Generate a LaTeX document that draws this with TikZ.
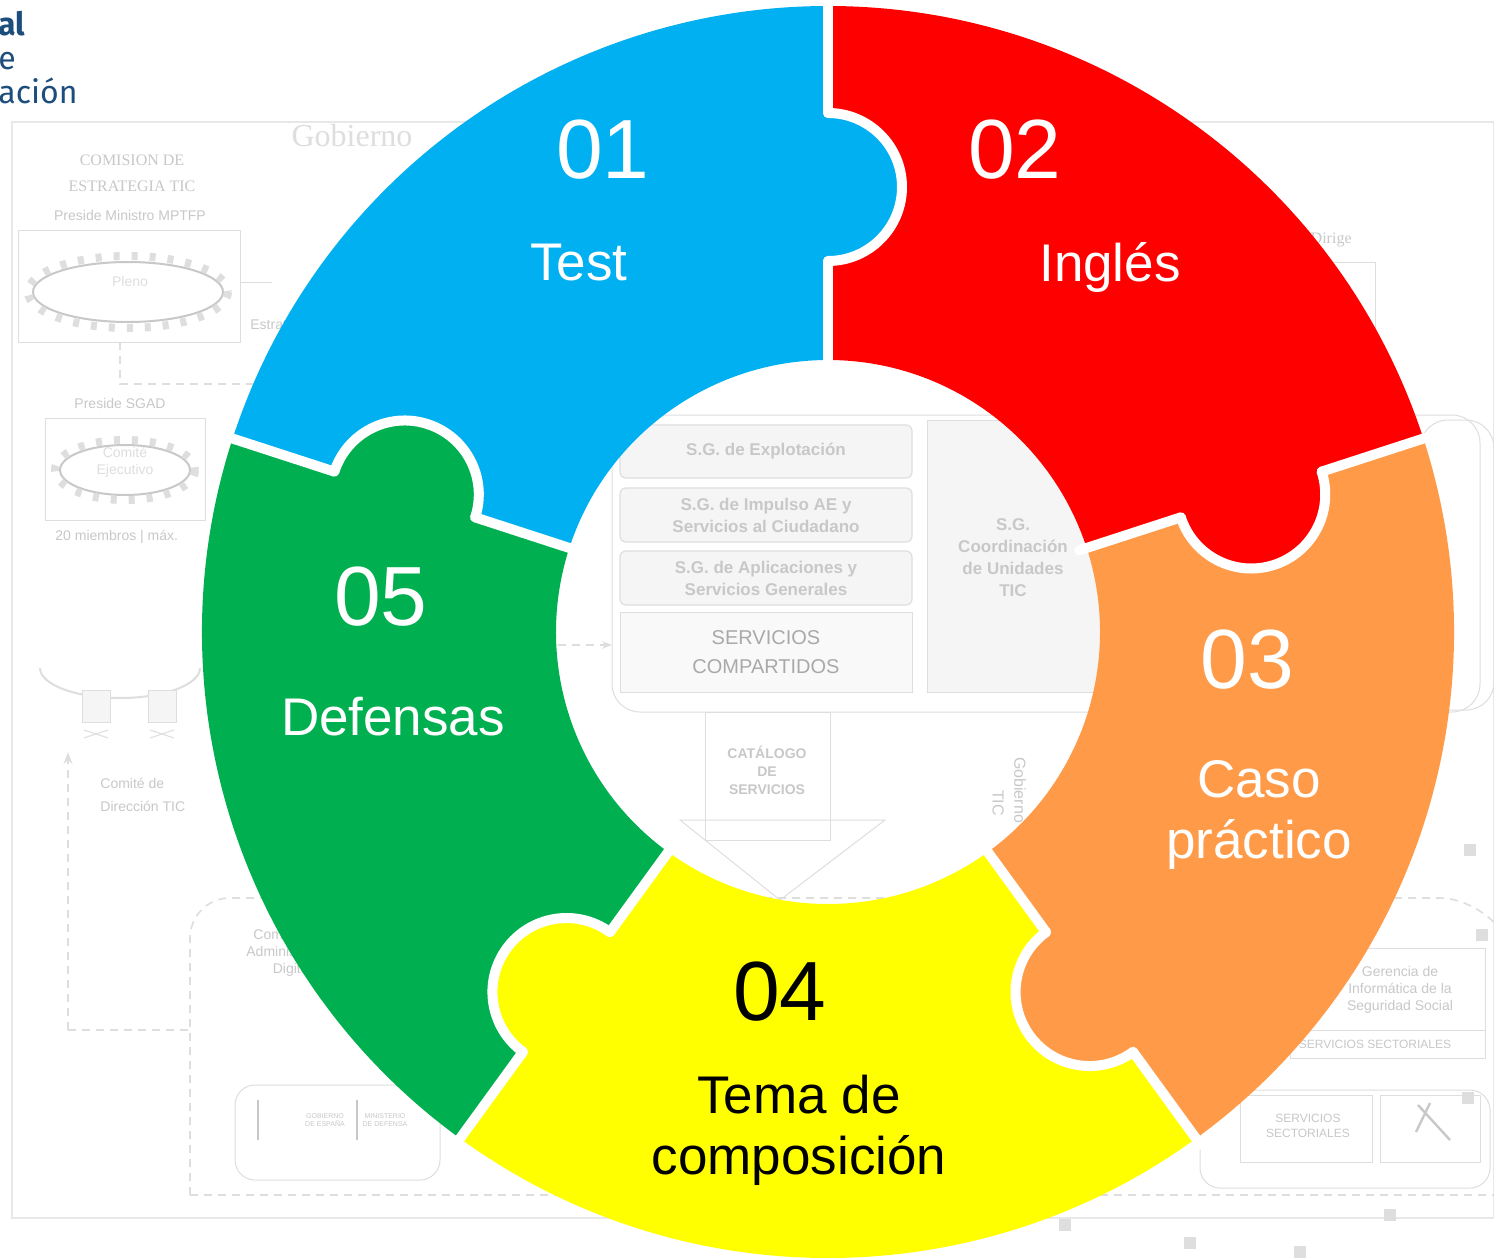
\documentclass[tikz,border=0pt]{standalone}
\usepackage{fontspec}
\setmainfont{Liberation Sans}
\newfontfamily\bgserif{Liberation Serif}
\newfontfamily\logofont{Fira Sans}
\usetikzlibrary{arrows.meta}
\definecolor{cblue}{HTML}{00B0F0}
\definecolor{cred}{HTML}{FF0000}
\definecolor{corange}{HTML}{FF9A48}
\definecolor{cyellow}{HTML}{FFFF00}
\definecolor{cgreen}{HTML}{00B050}
\definecolor{logoblue}{HTML}{1C4D7C}
\definecolor{bgline}{HTML}{DEDEDE}
\definecolor{bgfill}{HTML}{F5F5F5}
\definecolor{bgtext}{HTML}{C8C8C8}
\definecolor{bgdark}{HTML}{A9A9A9}
\begin{document}
\begin{tikzpicture}[x=0.5pt,y=-0.5pt,
  bgbox/.style={draw=bgline, line width=0.5pt},
  bgsg/.style={draw=bgline, fill=bgfill, line width=0.6pt, rounded corners=3pt},
  bgtxt/.style={text=bgtext, inner sep=0pt, font=\fontsize{7}{8.5}\selectfont, align=center},
  bgstxt/.style={text=bgtext, inner sep=0pt, font=\bgserif\fontsize{8}{9.5}\selectfont, align=center},
  sgtxt/.style={text=bgtext, inner sep=0pt, font=\bfseries\fontsize{8.5}{11}\selectfont, align=center},
  bgdash/.style={draw=bgline, line width=0.8pt, dash pattern=on 4pt off 3pt},
  gap/.style={draw=white, line width=5pt, line cap=round},
  num/.style={text=white, inner sep=0pt, anchor=base, font=\fontsize{42}{42}\selectfont},
  lab/.style={text=white, inner sep=0pt, anchor=base, font=\fontsize{26.5}{30}\selectfont},
  logo/.style={text=logoblue, inner sep=0pt, anchor=base west, font=\logofont\fontsize{16}{18}\selectfont}
]
\useasboundingbox (0,0) rectangle (1494,1258);
\fill[white] (0,0) rectangle (1494,1258);

% ---------- faded background chart ----------
\node[logo, font=\logofont\bfseries\fontsize{16}{18}\selectfont] (lg1) at (-2,35) {al};
\node[logo] (lg2) at (-2,69) {e};
\node[logo] (lg3) at (-2,103) {ación};

\draw[draw=bgline!70, line width=0.6pt] (12,122) rectangle (1494,1218);
\node[text=bgline, inner sep=0pt, font=\bgserif\fontsize{16}{18}\selectfont] (gob) at (352,136) {Gobierno};
\node[bgstxt] (com1) at (132,160) {COMISION DE};
\node[bgstxt] (com2) at (132,186) {ESTRATEGIA TIC};
\node[bgtxt] (pres1) at (130,215) {Preside Ministro MPTFP};
\draw[bgbox] (18,230) rectangle (240,342);
\draw[draw=bgtext, line width=1pt] (128,292) ellipse [x radius=95, y radius=30];
\draw[draw=bgline, line width=4pt, dash pattern=on 3pt off 6pt] (128,292) ellipse [x radius=100, y radius=36];
\node[bgtxt, text=bgline] (pleno) at (130,281) {Pleno};
\draw[bgbox] (240,282) -- (272,282);
\node[bgtxt, anchor=west] (estr) at (250,326) {Estrategia};
\draw[bgdash] (120,342) -- (120,384) -- (300,384);
\node[bgtxt] (pres2) at (120,403) {Preside SGAD};
\draw[bgbox] (45,418) rectangle (205,520);
\draw[draw=bgtext, line width=1pt] (125,470) ellipse [x radius=65, y radius=25];
\draw[draw=bgline, line width=4pt, dash pattern=on 3pt off 6pt] (125,470) ellipse [x radius=70, y radius=30];
\node[bgtxt, text=bgline] (ejec) at (125,462) {Comité\\Ejecutivo};
\node[bgtxt, anchor=west] (miem) at (55,537) {20 miembros | máx.};
% chairs
\draw[draw=bgline, line width=1pt] (40,668) arc[start angle=180, end angle=0, x radius=80, y radius=30];
\foreach \cx in {96,162}{
  \draw[bgbox, fill=bgfill] (\cx-14,690) rectangle (\cx+14,722);
  \draw[bgbox] (\cx-12,738) -- (\cx+12,730) (\cx-12,730) -- (\cx+12,738);
}
\draw[bgdash, -{Stealth[length=6pt]}] (68,1030) -- (68,752);
\draw[bgdash] (68,1030) -- (190,1030);
\node[bgtxt, anchor=west] (cdir1) at (100,783) {Comité de};
\node[bgtxt, anchor=west] (cdir2) at (100,806) {Dirección TIC};
\draw[bgdash, rounded corners=20pt] (190,1195) -- (190,898) -- (1480,898) -- (1494,920);
\draw[bgdash] (190,1195) -- (1494,1195);
\node[bgtxt, anchor=west] (cad) at (246,953) {Comisión de\\Administración\\Digital};
\draw[bgbox, rounded corners=10pt] (235,1085) rectangle (440,1180);
\draw[draw=bgtext, line width=1pt] (258,1100) -- (258,1140) (357,1100) -- (357,1140);
\node[bgtxt, font=\fontsize{3.5}{4}\selectfont] (lgA) at (325,1120) {GOBIERNO\\DE ESPAÑA};
\node[bgtxt, font=\fontsize{3.5}{4}\selectfont] (lgB) at (385,1120) {MINISTERIO\\DE DEFENSA};

% centre of chart
\draw[bgbox, rounded corners=14pt] (612,415) rectangle (1480,712);
\draw[bgsg] (620,425) rectangle (912,478);
\node[sgtxt] (sg1) at (766,451) {S.G. de Explotación};
\draw[bgsg] (620,488) rectangle (912,542);
\node[sgtxt] (sg2) at (766,515) {S.G. de Impulso AE y\\Servicios al Ciudadano};
\draw[bgsg] (620,551) rectangle (912,605);
\node[sgtxt] (sg3) at (766,578) {S.G. de Aplicaciones y\\Servicios Generales};
\draw[bgbox, fill=bgfill!60] (620,612) rectangle (912,692);
\node[text=bgdark, inner sep=0pt, font=\fontsize{10}{14.5}\selectfont, align=center] (scomp) at (766,652) {SERVICIOS\\COMPARTIDOS};
\draw[bgbox, fill=bgfill] (927,420) rectangle (1100,692);
\node[sgtxt] (sg4) at (1013,558) {S.G.\\Coordinación\\de Unidades\\TIC};
\draw[bgdash, -{Stealth[length=5pt]}] (558,645) -- (612,645);
\draw[bgbox] (705,712) rectangle (830,840);
\node[sgtxt, font=\bfseries\fontsize{7}{9}\selectfont] (cat) at (767,770) {CATÁLOGO\\DE\\SERVICIOS};
\draw[bgbox] (680,820) -- (885,820) -- (780,900) -- cycle;
\node[bgtxt, rotate=-90, font=\fontsize{8}{9}\selectfont] (gtic1) at (1020,790) {Gobierno};
\node[bgtxt, rotate=-90, font=\fontsize{8}{9}\selectfont] (gtic2) at (998,803) {TIC};
% right side
\node[bgstxt, anchor=east] (dirige) at (1352,240) {Dirige};
\draw[bgbox] (1300,262) rectangle (1375,345);
\draw[bgbox, rounded corners=14pt] (1420,420) rectangle (1494,710);
\draw[bgbox] (1290,948) rectangle (1485,1058);
\node[bgtxt] (gisss) at (1400,990) {Gerencia de\\Informática de la\\Seguridad Social};
\draw[bgbox] (1290,1030) -- (1485,1030);
\node[bgtxt, font=\fontsize{6}{7}\selectfont] (sect1) at (1375,1044) {SERVICIOS SECTORIALES};
\draw[bgbox, rounded corners=10pt] (1200,1090) rectangle (1490,1188);
\draw[bgbox] (1240,1095) rectangle (1372,1162);
\node[bgtxt, font=\fontsize{6}{7.5}\selectfont] (sect2) at (1308,1126) {SERVICIOS\\SECTORIALES};
\draw[bgbox] (1380,1095) rectangle (1480,1162);
\draw[draw=bgtext, line width=1.2pt] (1418,1105) -- (1450,1140) (1430,1103) -- (1416,1132);
\foreach \sx/\sy in {1065/1225, 1190/1243, 1300/1252, 1468/1098, 1482/935, 1470/850, 1390/1215}{
  \fill[bgline] (\sx-6,\sy-6) rectangle (\sx+6,\sy+6);
}

% ---------- puzzle ring ----------
\begin{scope}[shift={(828,632)}, yscale=-1]
  \foreach \a/\c in {162/cblue, 90/cred, 18/corange, -54/cyellow, -126/cgreen}{
    \pgfmathsetmacro\b{\a-72}
    \fill[\c] (\a:272) -- (\a:626) arc[start angle=\a, end angle=\b, radius=626]
      -- (\b:272) arc[start angle=\b, end angle=\a, radius=272] -- cycle;
  }
  \foreach \a/\c in {162/cblue, 90/cred, 18/corange, -54/cyellow, -126/cgreen}{
    \pgfmathsetmacro\b{\a-72}
    \fill[\c] (\b:445) circle[radius=76];
  }
  \foreach \t in {90,18,-54,-126,162}{
    \draw[gap] (\t:264) -- (\t:371);
    \draw[gap] (\t:519) -- (\t:634);
    \draw[gap] (\t:445) ++(\t:74) arc[start angle=\t, end angle=\t-180, radius=74];
  }
\end{scope}

% ---------- labels ----------
\node[num] (n1) at (603,178) {01};
\node[lab] (l1) at (579,280) {Test};
\node[num] (n2) at (1015,178) {02};
\node[lab] (l2) at (1110,281) {Inglés};
\node[num] (n3) at (1247,688) {03};
\node[lab] (l3a) at (1259,797) {Caso};
\node[lab] (l3b) at (1259,858) {práctico};
\node[num, text=black] (n4) at (780,1020) {04};
\node[lab, text=black] (l4a) at (799,1113) {Tema de};
\node[lab, text=black] (l4b) at (799,1174) {composición};
\node[num] (n5) at (381,625) {05};
\node[lab] (l5) at (393,735) {Defensas};
\end{tikzpicture}
\end{document}
